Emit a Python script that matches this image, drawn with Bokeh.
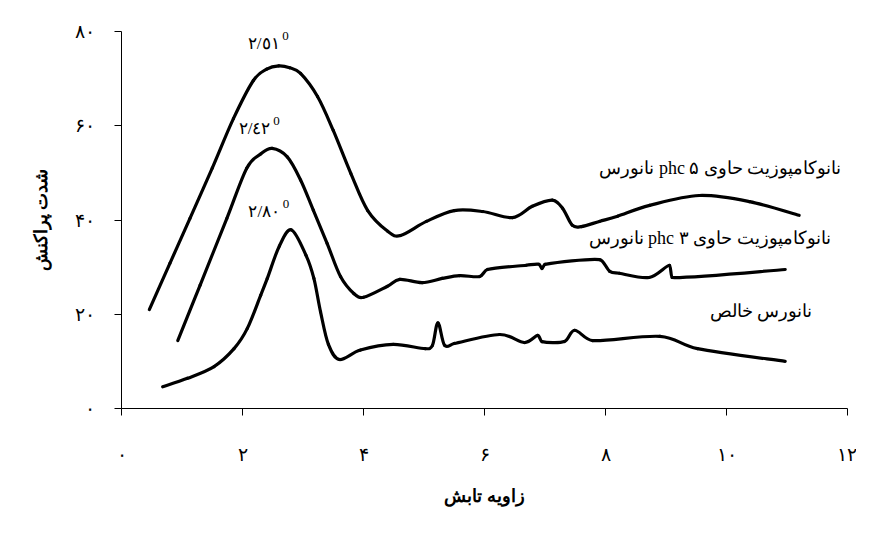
from bokeh.plotting import figure
from bokeh.models import Range1d, FixedTicker, Label, Title
from bokeh.embed import file_html
from bokeh.resources import INLINE

# ---- data ----
x_tick_values = [0, 2, 4, 6, 8, 10, 12]
x_tick_labels = ["۰", "۲", "۴", "۶", "۸", "۱۰", "۱۲"]
y_tick_values = [0, 20, 40, 60, 80]
y_tick_labels = ["۰", "۲۰", "۴۰", "۶۰", "۸۰"]

# nanocomposite with 5 phc nanoclay
x_5phc = [0.46, 0.8, 1.13, 1.5, 1.85, 2.18, 2.4, 2.6, 2.78, 2.96, 3.24, 3.5, 3.79, 4.07, 4.4, 4.61,
          5.04, 5.5, 5.97, 6.46, 6.79, 7.12, 7.29, 7.45, 7.6, 7.9, 8.2, 8.73, 9.55, 10.38, 11.2]
y_5phc = [21.0, 30.8, 40.3, 51.0, 61.5, 69.6, 72.0, 72.7, 72.3, 71.1, 66.2, 59.0, 49.9, 42.0, 37.6, 36.7,
          39.7, 42.0, 41.8, 40.5, 42.9, 44.2, 42.5, 38.9, 38.6, 39.7, 40.8, 43.1, 45.2, 43.9, 41.0]

# nanocomposite with 3 phc nanoclay
x_3phc = [0.93, 1.3, 1.74, 2.07, 2.3, 2.49, 2.74, 2.96, 3.17, 3.4, 3.62, 3.84, 4.0, 4.39, 4.6, 4.97,
          5.3, 5.59, 5.92, 6.05, 6.69, 6.9, 6.95, 7.0, 7.9, 8.07, 8.23, 8.72, 9.06, 9.1, 10.97]
y_3phc = [14.4, 26.2, 40.3, 51.0, 54.0, 55.2, 53.4, 48.5, 42.1, 35.0, 28.0, 24.4, 23.6, 25.9, 27.4, 26.7,
          27.6, 28.2, 28.0, 29.5, 30.4, 30.6, 29.7, 30.6, 31.6, 29.1, 28.7, 27.8, 30.4, 27.8, 29.5]

# pure nanoclay
x_pure = [0.68, 1.09, 1.53, 1.86, 2.08, 2.3, 2.41, 2.61, 2.81, 3.05, 3.18, 3.29, 3.42, 3.6, 3.95, 4.49,
          5.02, 5.14, 5.23, 5.34, 5.5, 6.25, 6.66, 6.88, 6.95, 7.32, 7.49, 7.79, 8.9, 9.52, 10.97]
y_pure = [4.6, 6.4, 8.9, 12.7, 17.0, 24.0, 27.6, 34.5, 37.9, 32.5, 27.6, 20.5, 13.6, 10.4, 12.4, 13.6,
          12.7, 13.4, 18.2, 13.4, 13.8, 15.7, 14.0, 15.5, 14.2, 14.2, 16.6, 14.4, 15.3, 12.7, 10.0]

peak_labels = ["٢/٥١", "٢/٤٢", "٢/٨٠"]
series_names = ["نانوکامپوزیت حاوی phc ۵ نانورس", "نانوکامپوزیت حاوی phc ۳ نانورس", "نانورس خالص"]
x_title = "زاویه تابش"
y_title = "شدت پراکنش"

SERIF = "Liberation Serif"


def smooth_segments(xs, ys):
    """Catmull-Rom style control points (like a spreadsheet 'smoothed line'),
    tangents clamped so each segment stays monotone in x."""
    n = len(xs)
    seg = dict(x0=[], y0=[], x1=[], y1=[], cx0=[], cy0=[], cx1=[], cy1=[])
    for i in range(n - 1):
        a = max(i - 1, 0)
        b = min(i + 2, n - 1)
        h = xs[i + 1] - xs[i]
        t0x, t0y = (xs[i + 1] - xs[a]) / 6.0, (ys[i + 1] - ys[a]) / 6.0
        t1x, t1y = (xs[b] - xs[i]) / 6.0, (ys[b] - ys[i]) / 6.0
        lim = 0.45 * h
        if t0x > lim:
            s = lim / t0x
            t0x, t0y = t0x * s, t0y * s
        if t1x > lim:
            s = lim / t1x
            t1x, t1y = t1x * s, t1y * s
        seg["x0"].append(xs[i]); seg["y0"].append(ys[i])
        seg["x1"].append(xs[i + 1]); seg["y1"].append(ys[i + 1])
        seg["cx0"].append(xs[i] + t0x); seg["cy0"].append(ys[i] + t0y)
        seg["cx1"].append(xs[i + 1] - t1x); seg["cy1"].append(ys[i + 1] - t1y)
    return seg


p = figure(width=856, height=517, x_range=Range1d(0, 12), y_range=Range1d(0, 80),
           output_backend="svg", toolbar_location=None,
           min_border_left=121, min_border_right=9, min_border_top=31, min_border_bottom=109)
p.outline_line_color = None
p.xgrid.visible = False
p.ygrid.visible = False
p.background_fill_color = "white"
p.border_fill_color = "white"

for xs, ys in [(x_5phc, y_5phc), (x_3phc, y_3phc), (x_pure, y_pure)]:
    p.bezier(line_color="black", line_width=3.2, line_cap="round",
             **smooth_segments(xs, ys))

# axes
p.xaxis.ticker = FixedTicker(ticks=x_tick_values)
p.yaxis.ticker = FixedTicker(ticks=y_tick_values)
p.xaxis.major_label_overrides = dict(zip(x_tick_values, x_tick_labels))
p.yaxis.major_label_overrides = dict(zip(y_tick_values, y_tick_labels))
for ax in (p.xaxis, p.yaxis):
    ax.axis_line_color = "black"
    ax.axis_line_width = 1
    ax.major_tick_line_color = "black"
    ax.major_tick_out = 7
    ax.major_tick_in = 0
    ax.minor_tick_line_color = None
    ax.major_label_text_font = SERIF
    ax.major_label_text_font_size = "19px"
    ax.major_label_text_color = "black"

p.xaxis.axis_label = x_title
p.xaxis.axis_label_text_font = SERIF
p.xaxis.axis_label_text_font_size = "18px"
p.xaxis.axis_label_text_font_style = "bold"
p.xaxis.axis_label_text_color = "black"
p.xaxis.major_label_standoff = 28
p.xaxis.axis_label_standoff = 18
p.yaxis.major_label_standoff = 20
p.yaxis.major_label_orientation = "horizontal"
p.yaxis.major_label_text_baseline = "bottom"

# y-axis title as a side title (sits a little above the frame centre, like the reference)
p.add_layout(Title(text=y_title, align="center", offset=20, standoff=41,
                   text_font=SERIF, text_font_size="18px", text_font_style="bold",
                   text_color="black"), "left")

# peak annotations with superscript 0
peak_pos = [(2.35, 77.5), (2.2, 59.4), (2.36, 41.8)]
for txt, (lx, ly) in zip(peak_labels, peak_pos):
    p.add_layout(Label(x=lx, y=ly, text=txt, text_align="center", text_baseline="middle",
                       text_font=SERIF, text_font_size="17px", text_color="black"))
    p.add_layout(Label(x=lx + 0.36, y=ly + 1.6, text="0", text_align="center", text_baseline="middle",
                       text_font=SERIF, text_font_size="13px", text_color="black"))

# series names
name_pos = [(11.9, 51.0), (11.72, 36.1), (11.42, 20.6)]
for txt, (lx, ly) in zip(series_names, name_pos):
    p.add_layout(Label(x=lx, y=ly, text="\u202b" + txt + "\u202c", text_align="right", text_baseline="middle",
                       text_font=SERIF, text_font_size="18px", text_color="black"))

open("out.html", "w").write(file_html(p, INLINE))
